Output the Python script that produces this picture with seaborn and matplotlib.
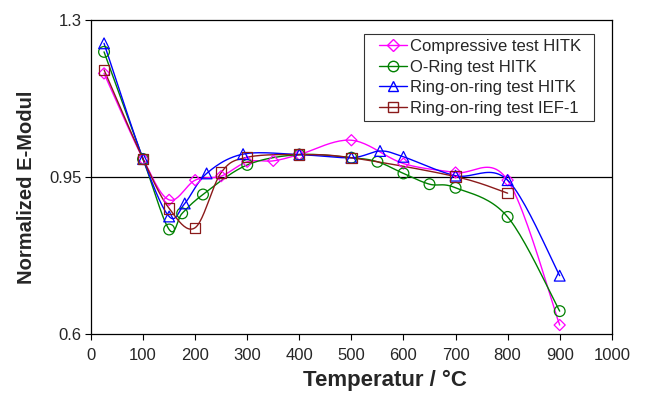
import numpy as np
import seaborn as sns
import matplotlib.pyplot as plt
from matplotlib.lines import Line2D
from matplotlib.legend_handler import HandlerLine2D

# data
comp_x = [25, 100, 150, 200, 250, 300, 350, 400, 500, 600, 700, 800, 900]
comp_y = [1.181, 0.99, 0.899, 0.943, 0.952, 0.984, 0.986, 1.0, 1.032, 0.980, 0.960, 0.943, 0.620]

oring_x = [25, 100, 150, 175, 215, 300, 400, 500, 550, 600, 650, 700, 800, 900]
oring_y = [1.229, 0.99, 0.833, 0.869, 0.911, 0.977, 1.0, 0.993, 0.984, 0.958, 0.934, 0.926, 0.861, 0.651]

rorh_x = [25, 100, 150, 180, 222, 292, 400, 500, 555, 600, 700, 800, 900]
rorh_y = [1.248, 0.99, 0.862, 0.891, 0.958, 1.001, 1.0, 0.993, 1.008, 0.995, 0.953, 0.943, 0.730]

rori_x = [25, 100, 150, 200, 250, 300, 400, 500, 700, 800]
rori_y = [1.189, 0.99, 0.880, 0.837, 0.960, 0.994, 1.0, 0.993, 0.951, 0.914]

labels = ["Compressive test HITK", "O-Ring test HITK",
          "Ring-on-ring test HITK", "Ring-on-ring test IEF-1"]
x_ticks = list(range(0, 1001, 100))
y_ticks = [0.6, 0.95, 1.3]


# Excel-like smoothed line (catmull-rom bezier through the points)
def smooth(x, y, n=24):
    p = np.column_stack([x, y]).astype(float)
    p = np.vstack([p[0], p, p[-1]])
    t = np.linspace(0, 1, n)[:, None]
    out = []
    for i in range(1, len(p) - 2):
        p0, p1, p2, p3 = p[i - 1], p[i], p[i + 1], p[i + 2]
        c1 = p1 + (p2 - p0) / 6
        c2 = p2 - (p3 - p1) / 6
        seg = ((1 - t) ** 3) * p1 + 3 * ((1 - t) ** 2) * t * c1 + 3 * (1 - t) * t ** 2 * c2 + t ** 3 * p2
        out.append(seg)
    out = np.vstack(out)
    return out[:, 0], out[:, 1]


sns.set_style("white")
plt.rcParams["font.family"] = ["Liberation Sans", "DejaVu Sans"]

fig = plt.figure(figsize=(6.46, 3.98), dpi=100)
ax = fig.add_axes([0.1409, 0.1608, 0.8061, 0.7889])

series = [
    (comp_x, comp_y, "#FF00FF", "D", 32),
    (oring_x, oring_y, "#008000", "o", 60),
    (rorh_x, rorh_y, "#0000FF", "^", 60),
    (rori_x, rori_y, "#8B1A1A", "s", 55),
]

ax.axhline(0.95, color="black", lw=0.9, zorder=1)

handles = []
for (x, y, c, m, s), lab in zip(series, labels):
    sx, sy = smooth(x, y)
    sns.lineplot(x=sx, y=sy, color=c, lw=1.0, sort=False, ax=ax, zorder=3)
    sns.scatterplot(x=x, y=y, marker=m, s=s, facecolors="none", edgecolor=c,
                    linewidth=0.9, ax=ax, zorder=4)
    handles.append(Line2D([], [], color=c, lw=1.0, marker=m, mfc="none", mec=c,
                          ms=7.5 if m != "D" else 6, label=lab))

ax.set_xlim(0, 1000)
ax.set_ylim(0.6, 1.3)
ax.set_xticks(x_ticks)
ax.set_yticks(y_ticks)
ax.set_yticklabels(["0.6", "0.95", "1.3"])
ax.tick_params(axis="both", direction="out", length=4, width=0.8, labelsize=12,
               bottom=True, left=True, color="black")
ax.tick_params(axis="x", pad=6)
ax.tick_params(axis="y", pad=3)
for sp in ax.spines.values():
    sp.set_color("black")
    sp.set_linewidth(0.9)

ax.set_xlabel("Temperatur / °C", fontsize=16, fontweight="bold")
ax.set_ylabel("Normalized E-Modul", fontsize=14.5, fontweight="bold")
ax.xaxis.set_label_coords(0.564, -0.115)
ax.yaxis.set_label_coords(-0.106, 0.466)

# legend box stretched to the reference frame width
leg = ax.legend(handles=handles, loc="upper left",
                bbox_to_anchor=(0.524, 0.5, 0.4415, 0.455), mode="expand",
                fontsize=12, frameon=True, fancybox=False, shadow=False,
                handlelength=2.3, handletextpad=0.15, labelspacing=0.33,
                borderpad=0.3, borderaxespad=0,
                handler_map={Line2D: HandlerLine2D(xpad=0.6)})
leg.get_frame().set_edgecolor("black")
leg.get_frame().set_linewidth(0.8)

plt.savefig("out.png", dpi=100)
